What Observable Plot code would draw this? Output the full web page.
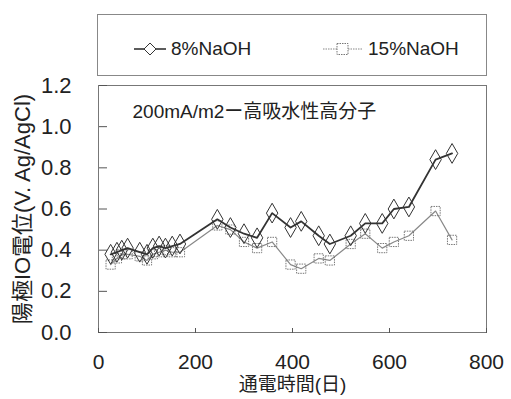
<!DOCTYPE html>
<html>
<head>
<meta charset="utf-8">
<script src="https://cdn.jsdelivr.net/npm/d3@7"></script>
<script src="https://cdn.jsdelivr.net/npm/@observablehq/plot@0.6"></script>
<style>
  html, body { margin: 0; padding: 0; background: #fff; }
  #wrap { position: relative; width: 511px; height: 399px; }
  #legend {
    position: absolute; left: 97px; top: 14px; width: 390px; height: 62px;
    border: 1px solid #888; box-sizing: border-box;
    font-family: "Liberation Sans", Arial, sans-serif; font-size: 19px; color: #222;
  }
  .item { position: absolute; top: 24px; display: flex; align-items: center; height: 20px; }
  .item svg { margin-right: 4px; }
</style>
</head>
<body>
<div id="wrap">
  <div id="chart"></div>
  <div id="legend">
    <div class="item" style="left:35px">
      <svg width="34" height="16"><line x1="1" y1="8" x2="33" y2="8" stroke="#333" stroke-width="1.6"/><path d="M17,2 L23,8 L17,14 L11,8 Z" fill="white" stroke="#333" stroke-width="1"/></svg>
      <span>8%NaOH</span>
    </div>
    <div class="item" style="left:224px">
      <svg width="42" height="16"><line x1="1" y1="8" x2="41" y2="8" stroke="#888" stroke-width="1.2" stroke-dasharray="1.5,1"/><rect x="15" y="2.5" width="11" height="11" fill="white" stroke="#777" stroke-width="1" stroke-dasharray="1.5,1"/></svg>
      <span>15%NaOH</span>
    </div>
  </div>
</div>
<script>
const days   = [25, 38, 48, 60, 85, 100, 112, 125, 138, 152, 168, 245, 272, 300, 327, 358, 396, 418, 454, 477, 520, 550, 585, 609, 640, 695, 729];
const naoh8  = [0.38, 0.39, 0.40, 0.41, 0.39, 0.38, 0.41, 0.42, 0.41, 0.42, 0.43, 0.55, 0.51, 0.48, 0.46, 0.58, 0.51, 0.54, 0.47, 0.43, 0.47, 0.53, 0.53, 0.60, 0.61, 0.84, 0.87];
const naoh15 = [0.33, 0.36, 0.38, 0.38, 0.37, 0.35, 0.38, 0.39, 0.40, 0.39, 0.39, 0.52, 0.50, 0.44, 0.41, 0.44, 0.33, 0.31, 0.36, 0.35, 0.43, 0.48, 0.41, 0.44, 0.47, 0.59, 0.45];
const xTicks = [0, 200, 400, 600, 800];
const yTicks = [0, 0.2, 0.4, 0.6, 0.8, 1.0, 1.2];
const xLabel = "通電時間(日)";
const yLabel = "陽極IO電位(V. Ag/AgCl)";
const note = "200mA/m2ー高吸水性高分子";

const d8 = days.map((d, i) => ({day: d, v: naoh8[i]}));
const d15 = days.map((d, i) => ({day: d, v: naoh15[i]}));
const font = "'Liberation Sans', 'Noto Sans CJK JP', sans-serif";

const chart = Plot.plot({
  width: 511, height: 399,
  marginLeft: 98, marginRight: 25, marginTop: 85, marginBottom: 67,
  x: {domain: [0, 800], ticks: xTicks},
  y: {domain: [0, 1.2], ticks: yTicks, tickFormat: d3.format(".1f")},
  style: {fontFamily: font, fontSize: "22px", color: "#222", background: "transparent"},
  marks: [
    Plot.frame({stroke: "#777", strokeWidth: 1}),
    Plot.axisY(yTicks, {tickSize: 0, tickPadding: 27, tickFormat: d3.format(".1f"), label: null, fontSize: 22}),
    Plot.axisY(yTicks, {tickSize: 8, anchor: "right", text: null, label: null, stroke: "#555", dx: -(511 - 98 - 25)}),
    Plot.axisX(xTicks, {tickSize: 0, tickPadding: 22, label: null, fontSize: 21}),
    Plot.axisX(xTicks, {tickSize: 5, anchor: "top", text: null, label: null, stroke: "#555", dy: 399 - 85 - 67}),
    Plot.line(d15, {x: "day", y: "v", stroke: "#888", strokeWidth: 1.2}),
    Plot.dot(d15, {x: "day", y: "v", symbol: "square", r: 5.2, stroke: "#777", fill: "none", strokeWidth: 1, strokeDasharray: "1.5,1"}),
    Plot.line(d8, {x: "day", y: "v", stroke: "#333", strokeWidth: 1.8}),
    Plot.dot(d8, {x: "day", y: "v", symbol: "diamond", r: 6, stroke: "#333", fill: "none", strokeWidth: 1}),
    Plot.text([note], {frameAnchor: "top-left", dx: 34, dy: 19, textAnchor: "start", fontSize: 19, fill: "#222"}),
    Plot.text([xLabel], {frameAnchor: "bottom", textAnchor: "middle", dy: 58, fontSize: 19, fill: "#222"}),
    Plot.text([yLabel], {frameAnchor: "left", textAnchor: "middle", dx: -76, rotate: -90, fontSize: 22, fill: "#222"})
  ]
});
document.getElementById("chart").appendChild(chart);
</script>
</body>
</html>
